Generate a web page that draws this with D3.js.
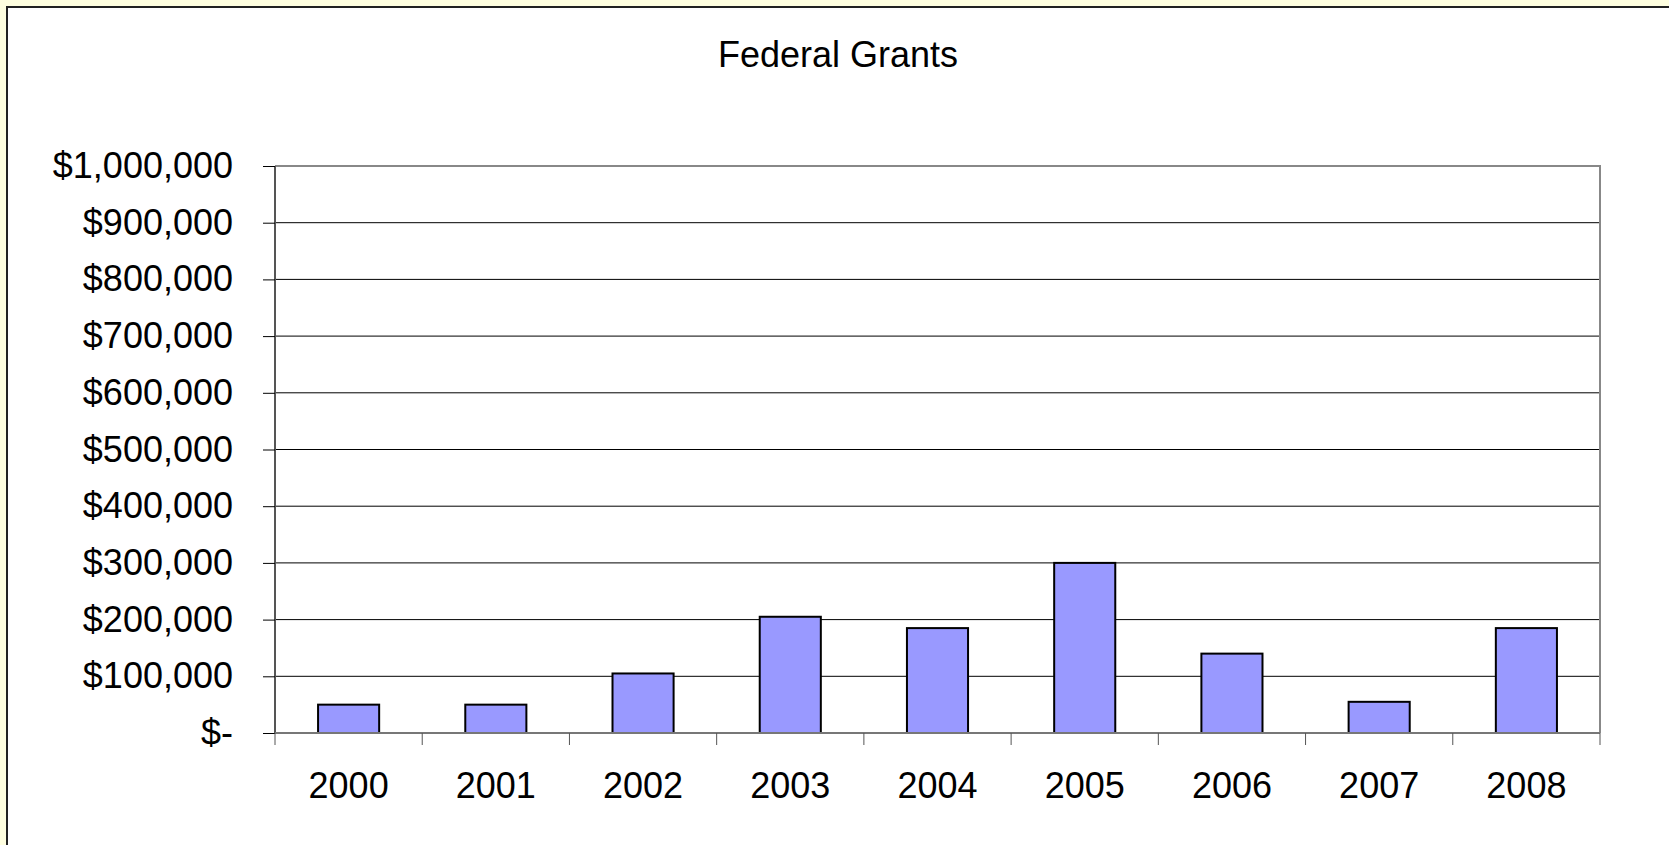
<!DOCTYPE html>
<html>
<head>
<meta charset="utf-8">
<script src="https://cdn.jsdelivr.net/npm/d3@7"></script>
<style>
  body { margin: 0; background: #ffffe0; }
  svg { display: block; }
  text { font-family: "Liberation Sans", Arial, sans-serif; }
</style>
</head>
<body>
<svg width="1669" height="845"></svg>
<script>
// data
var years = ["2000", "2001", "2002", "2003", "2004", "2005", "2006", "2007", "2008"];
var grants = [50000, 50000, 105000, 205000, 185000, 300000, 140000, 55000, 185000];
var yTicks = [0, 100000, 200000, 300000, 400000, 500000, 600000, 700000, 800000, 900000, 1000000];

var svg = d3.select("svg"),
    margin = {top: 166, right: 69, bottom: 112, left: 275},
    width = +svg.attr("width") - margin.left - margin.right,
    height = +svg.attr("height") - margin.top - margin.bottom;

// chart area (white with dark frame, runs off the right/bottom)
svg.append("rect")
    .attr("x", 0).attr("y", 0)
    .attr("width", 1669).attr("height", 845)
    .attr("fill", "#ffffe0");
svg.append("rect")
    .attr("x", 7).attr("y", 7)
    .attr("width", 1700).attr("height", 900)
    .attr("fill", "#fff")
    .attr("stroke", "#222")
    .attr("stroke-width", 2);

svg.append("text")
    .attr("x", 838)
    .attr("y", 67)
    .attr("text-anchor", "middle")
    .attr("font-size", 36)
    .attr("fill", "#000")
    .text("Federal Grants");

var g = svg.append("g").attr("transform", "translate(" + margin.left + "," + margin.top + ")");

var x = d3.scaleBand()
    .domain(years)
    .range([0, width])
    .paddingInner(0)
    .paddingOuter(0);
var y = d3.scaleLinear()
    .domain([0, 1000000])
    .range([height, 0]);

// gridlines
g.append("g")
  .selectAll("line")
  .data(yTicks.slice(1))
  .enter().append("line")
    .attr("x1", 0)
    .attr("x2", width)
    .attr("y1", function(d) { return y(d); })
    .attr("y2", function(d) { return y(d); })
    .attr("stroke", "#000")
    .attr("stroke-width", 1);

// plot border top + right
g.append("path")
    .attr("d", "M0," + y(1000000) + "H" + width + "V" + height)
    .attr("fill", "none")
    .attr("stroke", "#888")
    .attr("stroke-width", 2);

// bars
var barW = x.bandwidth() * 0.415;
g.append("g")
  .selectAll("rect")
  .data(years)
  .enter().append("rect")
    .attr("x", function(d) { return x(d) + (x.bandwidth() - barW) / 2; })
    .attr("y", function(d, i) { return y(grants[i]); })
    .attr("width", barW)
    .attr("height", function(d, i) { return height - y(grants[i]); })
    .attr("fill", "#9999ff")
    .attr("stroke", "#000")
    .attr("stroke-width", 2);

// y axis
var fmt = d3.format(",");
var yAxis = g.append("g")
    .call(d3.axisLeft(y)
      .tickValues(yTicks)
      .tickSize(12)
      .tickPadding(30)
      .tickFormat(function(d) { return d === 0 ? "$-" : "$" + fmt(d); }));
yAxis.select(".domain")
    .attr("d", "M0,0V" + height)
    .attr("stroke", "#555")
    .attr("stroke-width", 2);
yAxis.selectAll(".tick line").attr("stroke", "#000");
yAxis.selectAll("text")
    .attr("font-size", 36)
    .attr("font-family", "'Liberation Sans', Arial, sans-serif")
    .attr("fill", "#000");

// x axis
var xAxis = g.append("g")
    .attr("transform", "translate(0," + height + ")")
    .call(d3.axisBottom(x).tickSize(0).tickPadding(39));
xAxis.select(".domain")
    .attr("d", "M0,0H" + width)
    .attr("stroke", "#777")
    .attr("stroke-width", 2);
xAxis.selectAll("text")
    .attr("font-size", 36)
    .attr("font-family", "'Liberation Sans', Arial, sans-serif")
    .attr("fill", "#000");

// category boundary ticks
xAxis.append("g")
  .selectAll("line")
  .data(years.map(function(d) { return x(d); }).concat([x.range()[1]]))
  .enter().append("line")
    .attr("x1", function(d) { return d; })
    .attr("x2", function(d) { return d; })
    .attr("y1", 0)
    .attr("y2", 12)
    .attr("stroke", "#555")
    .attr("stroke-width", 1);
</script>
</body>
</html>
